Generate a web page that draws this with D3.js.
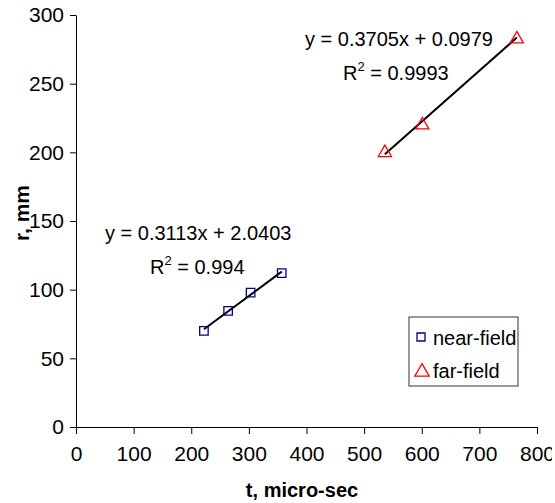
<!DOCTYPE html>
<html>
<head>
<meta charset="utf-8">
<script src="https://cdn.jsdelivr.net/npm/d3@7"></script>
<style>
body { margin:0; background:#fff; }
text { font-family: "Liberation Sans", Arial, sans-serif; fill:#000; }
</style>
</head>
<body>
<svg id="chart" width="552" height="503"></svg>
<script>
// data
var nearT = [222, 264, 303, 357];
var nearR = [70, 84.5, 97.8, 112];
var farT = [536, 601, 765];
var farR = [199.7, 219.8, 282.5];
var xTicks = [0, 100, 200, 300, 400, 500, 600, 700, 800];
var yTicks = [0, 50, 100, 150, 200, 250, 300];
var nearFit = {slope: 0.3113, icpt: 2.0403, r2: '0.994'};
var farFit = {slope: 0.3705, icpt: 0.0979, r2: '0.9993'};

var svg = d3.select('#chart');
var xScale = d3.scaleLinear().domain([0, 800]).range([76, 537]);
var yScale = d3.scaleLinear().domain([0, 300]).range([427, 15]);

//axes
var xAxis = svg.append('g').attr('transform', 'translate(0,427)')
	.call(d3.axisBottom(xScale).tickValues(xTicks).tickSize(7).tickSizeOuter(0).tickPadding(12));
var yAxis = svg.append('g').attr('transform', 'translate(76,0)')
	.call(d3.axisLeft(yScale).tickValues(yTicks).tickSize(6).tickSizeOuter(0).tickPadding(6));
[xAxis, yAxis].forEach(function(a){
	a.select('.domain').attr('stroke', '#000').attr('stroke-width', 1);
	a.selectAll('.tick line').attr('stroke', '#000');
	a.selectAll('.tick text').style('font-size', '21px').style('font-family', '"Liberation Sans", Arial, sans-serif').attr('fill', '#000');
});
xAxis.selectAll('.tick text').attr('dy', '0.72em');

svg.append('text').attr('x', 302).attr('y', 497).attr('text-anchor', 'middle')
	.style('font-size', '20px').style('font-weight', 'bold').text('t, micro-sec');
svg.append('text').attr('transform', 'translate(29,213) rotate(-90)').attr('text-anchor', 'middle')
	.style('font-size', '21px').style('font-weight', 'bold').text('r, mm');

//trendlines
function trend(ts, fit){
	var t0 = d3.min(ts), t1 = d3.max(ts);
	svg.append('line')
		.attr('x1', xScale(t0)).attr('y1', yScale(fit.slope*t0 + fit.icpt))
		.attr('x2', xScale(t1)).attr('y2', yScale(fit.slope*t1 + fit.icpt))
		.attr('stroke', '#000').attr('stroke-width', 2);
}
trend(nearT, nearFit);
trend(farT, farFit);

//markers
var sq = d3.symbol().type(d3.symbolSquare).size(72);
var tri = d3.symbol().type(d3.symbolTriangle).size(75);
svg.selectAll('path.near').data(nearT).enter().append('path').attr('class', 'near')
	.attr('d', sq).attr('transform', function(d, i){ return 'translate(' + xScale(d) + ',' + yScale(nearR[i]) + ')'; })
	.attr('fill', 'none').attr('stroke', '#000080').attr('stroke-width', 1.3);
svg.selectAll('path.far').data(farT).enter().append('path').attr('class', 'far')
	.attr('d', tri).attr('transform', function(d, i){ return 'translate(' + xScale(d) + ',' + yScale(farR[i]) + ')'; })
	.attr('fill', 'none').attr('stroke', '#ff0000').attr('stroke-width', 1.3);

//equation labels
function eqn(x, y, fit, rx){
	svg.append('text').attr('x', x).attr('y', y).style('font-size', '20px')
		.text('y = ' + fit.slope.toFixed(4) + 'x + ' + fit.icpt.toFixed(4));
	var r = svg.append('text').attr('x', rx).attr('y', y + 34).style('font-size', '20px');
	r.append('tspan').text('R');
	r.append('tspan').attr('dy', -9).style('font-size', '13px').text('2');
	r.append('tspan').attr('dy', 9).text(' = ' + fit.r2);
}
eqn(105, 240, nearFit, 150);
eqn(305, 46, farFit, 343);

//legend
var leg = svg.append('g');
leg.append('rect').attr('x', 409).attr('y', 317).attr('width', 109).attr('height', 69)
	.attr('fill', '#fff').attr('stroke', '#333').attr('stroke-width', 1);
leg.append('path').attr('d', d3.symbol().type(d3.symbolSquare).size(64))
	.attr('transform', 'translate(421,337)').attr('fill', 'none').attr('stroke', '#000080').attr('stroke-width', 1.3);
leg.append('path').attr('d', d3.symbol().type(d3.symbolTriangle).size(90))
	.attr('transform', 'translate(422,372)').attr('fill', 'none').attr('stroke', '#ff0000').attr('stroke-width', 1.3);
leg.append('text').attr('x', 433).attr('y', 345).style('font-size', '20px').text('near-field');
leg.append('text').attr('x', 433).attr('y', 378).style('font-size', '20px').text('far-field');
</script>
</body>
</html>
